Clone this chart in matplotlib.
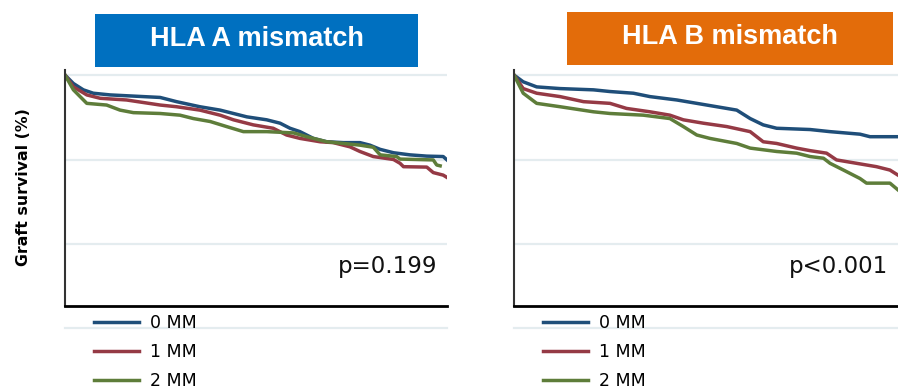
import matplotlib.pyplot as plt
from matplotlib.patches import Rectangle

# Time (years) and graft survival (%)
a_t0 = [0, 0.22, 0.48, 0.74, 1.18, 2.05, 2.49, 2.92, 3.53, 4.06, 4.41, 4.76, 5.28, 5.63,
        5.89, 6.15, 6.50, 6.85, 7.29, 7.72, 7.98, 8.25, 8.60, 9.03, 9.47, 9.90, 10.0]
a_s0 = [100, 98.0, 96.5, 95.7, 95.3, 94.9, 94.7, 93.7, 92.5, 91.7, 90.9, 90.1, 89.4, 88.6,
        87.4, 86.6, 85.0, 84.2, 84.0, 84.0, 83.4, 82.4, 81.6, 81.1, 80.8, 80.7, 79.9]
a_t1 = [0, 0.22, 0.57, 0.92, 1.61, 2.05, 2.49, 2.92, 3.53, 4.06, 4.41, 4.93, 5.45, 5.80,
        6.15, 6.68, 7.02, 7.46, 7.72, 8.07, 8.60, 8.77, 8.86, 9.47, 9.64, 9.90, 9.99]
a_s1 = [100, 97.2, 95.3, 94.5, 94.1, 93.5, 92.9, 92.5, 91.7, 90.5, 89.4, 88.2, 87.4, 85.8,
        85.0, 84.2, 84.0, 83.0, 81.9, 80.7, 80.0, 79.1, 78.3, 78.2, 76.9, 76.3, 75.8]
a_t2 = [0, 0.22, 0.57, 1.09, 1.44, 1.79, 2.49, 3.01, 3.36, 3.80, 4.23, 4.67, 5.28, 5.98,
        6.33, 6.85, 7.29, 7.72, 8.07, 8.25, 8.68, 8.77, 9.64, 9.73, 9.82]
a_s2 = [100, 96.5, 93.3, 92.9, 91.7, 91.1, 90.9, 90.5, 89.7, 89.0, 87.8, 86.6, 86.6, 86.3,
        85.4, 84.2, 83.8, 83.4, 82.9, 81.1, 80.7, 80.1, 79.9, 78.7, 78.5]

b_t0 = [0, 0.24, 0.59, 1.20, 2.07, 2.50, 3.11, 3.54, 4.24, 4.76, 5.28, 5.80, 6.15, 6.49,
        6.84, 7.71, 8.23, 9.01, 9.27, 10.0]
b_s0 = [100, 98.4, 97.2, 96.8, 96.5, 96.1, 95.7, 94.9, 94.1, 93.3, 92.5, 91.7, 89.7, 88.2,
        87.4, 87.1, 86.6, 86.0, 85.4, 85.4]
b_t1 = [0, 0.24, 0.59, 1.20, 1.81, 2.50, 2.93, 3.54, 4.06, 4.41, 4.93, 5.54, 6.15, 6.49,
        6.84, 7.36, 7.71, 8.14, 8.40, 8.92, 9.44, 9.79, 10.0]
b_s1 = [100, 96.8, 95.7, 94.9, 93.7, 93.3, 92.1, 91.3, 90.5, 89.4, 88.6, 87.8, 86.6, 84.2,
        83.8, 82.7, 82.1, 81.5, 79.9, 79.1, 78.3, 77.5, 76.3]
b_t2 = [0, 0.24, 0.59, 1.20, 2.07, 2.50, 3.37, 4.06, 4.41, 4.76, 5.10, 5.80, 6.15, 6.84,
        7.36, 7.71, 8.06, 8.23, 8.58, 9.01, 9.18, 9.79, 10.0]
b_s2 = [100, 95.7, 93.3, 92.5, 91.3, 90.9, 90.5, 89.7, 87.8, 85.8, 85.0, 83.8, 82.7, 81.9,
        81.5, 80.7, 80.3, 79.1, 77.5, 75.5, 74.4, 74.4, 72.8]

labels = ["0 MM", "1 MM", "2 MM"]
colors = ["#1F4E79", "#953A45", "#5E7D3A"]
titles = ["HLA A mismatch", "HLA B mismatch"]
box_colors = ["#0070C0", "#E36C0A"]
p_values = ["p=0.199", "p<0.001"]

panels = [
    [(a_t0, a_s0), (a_t1, a_s1), (a_t2, a_s2)],
    [(b_t0, b_s0), (b_t1, b_s1), (b_t2, b_s2)],
]

fig = plt.figure(figsize=(8.98, 3.9), dpi=100)
axes = [fig.add_axes([0.0724, 0.2154, 0.4254, 0.6051]),
        fig.add_axes([0.5724, 0.2154, 0.4276, 0.6051])]

for ax, curves, pv in zip(axes, panels, p_values):
    for (t, s), lab, c in zip(curves, labels, colors):
        ax.plot(t, s, color=c, lw=2.5, label=lab)
    ax.set_xlim(0, 10)
    ax.set_ylim(45.3, 101.2)
    ax.set_yticks([100, 80, 60])
    ax.set_xticks([])
    ax.tick_params(left=False, labelleft=False)
    ax.grid(axis="y", color="#E4ECEF", lw=1.6)
    ax.set_axisbelow(True)
    ax.axhline(40, color="#E4ECEF", lw=1.6, clip_on=False, zorder=0)
    for side in ["top", "right"]:
        ax.spines[side].set_visible(False)
    ax.spines["left"].set_color("#333333")
    ax.spines["left"].set_linewidth(1.5)
    ax.spines["bottom"].set_color("black")
    ax.spines["bottom"].set_linewidth(2)
    ax.text(0.974, 0.169, pv, transform=ax.transAxes, ha="right", va="center",
            fontsize=16.5, color="#111111")
    ax.legend(loc="upper left", bbox_to_anchor=(0.075, -0.035), frameon=False,
              fontsize=12.5, handlelength=2.6, handletextpad=0.65, labelspacing=0.62,
              borderpad=0, borderaxespad=0)

fig.text(0.026, 0.52, "Graft survival (%)", rotation=90, ha="center", va="center",
         fontsize=11.3, fontweight="bold")

# title boxes
boxes = [(0.1058, 0.8282, 0.3597, 0.1359), (0.6314, 0.8333, 0.3630, 0.1359)]
for (x0, y0, w, h), title, bc in zip(boxes, titles, box_colors):
    fig.add_artist(Rectangle((x0, y0), w, h, transform=fig.transFigure,
                             facecolor=bc, edgecolor="none"))
    fig.text(x0 + w / 2, y0 + h / 2 + 0.005, title, ha="center", va="center",
             color="white", fontsize=19.5, fontweight="bold", family="Liberation Sans")

fig.savefig("out.png", dpi=100)
